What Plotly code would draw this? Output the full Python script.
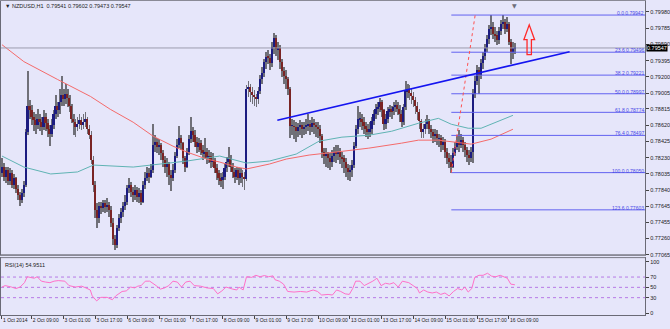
import plotly.graph_objects as go

# ---------------- data (prices in 1e-4 units) ----------------
FIRST_OPEN = 7805
CLOSE = [7812,7800,7808,7795,7805,7790,7798,7785,7778,7772,
         7780,7790,7854,7885,7880,7872,7868,7862,7870,7866,
         7860,7872,7865,7858,7852,7862,7876,7885,7880,7890,
         7898,7894,7900,7895,7885,7870,7866,7860,7864,7868,
         7862,7866,7870,7858,7850,7820,7790,7760,7750,7765,
         7762,7768,7764,7766,7760,7745,7725,7718,7738,7750,
         7758,7765,7770,7786,7790,7782,7778,7784,7776,7780,
         7770,7790,7798,7805,7800,7808,7838,7842,7836,7838,
         7828,7820,7812,7815,7802,7798,7808,7825,7838,7846,
         7840,7822,7812,7830,7845,7855,7850,7842,7836,7840,
         7832,7828,7830,7822,7825,7818,7820,7810,7804,7798,
         7796,7800,7810,7818,7822,7812,7806,7800,7808,7798,
         7805,7800,7797,7905,7908,7902,7898,7896,7893,7903,
         7917,7925,7938,7944,7943,7937,7956,7967,7953,7955,
         7938,7927,7921,7917,7905,7861,7861,7860,7855,7860,
         7862,7857,7860,7862,7864,7860,7865,7862,7860,7858,
         7849,7830,7825,7827,7822,7818,7825,7830,7828,7830,
         7824,7822,7818,7810,7806,7808,7814,7837,7858,7869,
         7870,7866,7861,7858,7854,7858,7867,7875,7881,7884,
         7890,7880,7864,7869,7879,7881,7879,7884,7886,7882,
         7875,7866,7884,7903,7905,7901,7897,7892,7885,7878,
         7867,7854,7858,7863,7867,7858,7854,7849,7851,7846,
         7846,7838,7842,7830,7822,7818,7812,7828,7836,7842,
         7838,7844,7838,7832,7826,7822,7830,7899,7915,7928,
         7922,7937,7945,7955,7965,7977,7980,7972,7970,7964,
         7975,7984,7986,7978,7984,7962,7950,7954.1,7954.7]
HIGH = [7822,7816,7812,7812,7810,7808,7803,7800,7790,7782,
        7785,7795,7858,7927,7892,7886,7878,7875,7882,7876,
        7872,7880,7877,7870,7862,7870,7880,7898,7890,7905,
        7921,7906,7912,7905,7898,7888,7875,7870,7872,7876,
        7872,7875,7878,7872,7862,7855,7825,7795,7768,7770,
        7770,7772,7772,7774,7770,7765,7750,7730,7742,7755,
        7762,7770,7778,7790,7798,7794,7788,7790,7788,7786,
        7784,7795,7806,7812,7810,7815,7864,7850,7846,7845,
        7840,7832,7825,7822,7818,7808,7815,7830,7845,7861,
        7850,7842,7825,7835,7850,7872,7860,7856,7848,7846,
        7844,7838,7846,7834,7832,7830,7828,7822,7815,7808,
        7804,7806,7815,7824,7836,7826,7816,7810,7812,7810,
        7810,7808,7806,7910,7915,7912,7908,7904,7900,7908,
        7922,7932,7942,7950,7952,7948,7962,7973,7970,7962,
        7958,7942,7932,7928,7920,7908,7870,7868,7866,7865,
        7868,7866,7866,7870,7875,7868,7872,7870,7866,7866,
        7862,7852,7835,7834,7830,7828,7832,7836,7838,7838,
        7834,7830,7826,7822,7815,7814,7820,7842,7862,7885,
        7878,7876,7872,7866,7864,7866,7872,7880,7888,7890,
        7895,7892,7882,7875,7884,7886,7885,7890,7892,7890,
        7886,7880,7888,7915,7912,7910,7905,7902,7896,7890,
        7882,7870,7864,7870,7874,7870,7862,7858,7858,7856,
        7852,7850,7848,7845,7834,7828,7826,7834,7842,7850,
        7856,7852,7848,7842,7836,7832,7836,7905,7921,7934,
        7932,7942,7950,7960,7970,7982,7994,7986,7980,7975,
        7980,7988,7994,7990,7992,7986,7966,7962,7960.2]
LOW = [7800,7795,7792,7790,7790,7786,7785,7780,7772,7765,
       7768,7776,7788,7850,7870,7862,7855,7852,7858,7855,
       7850,7856,7855,7848,7837,7848,7858,7870,7872,7876,
       7885,7885,7888,7884,7878,7865,7850,7848,7855,7858,
       7856,7858,7860,7852,7845,7815,7782,7750,7739,7745,
       7755,7758,7756,7758,7752,7740,7718,7712,7715,7735,
       7745,7752,7760,7766,7780,7776,7770,7772,7770,7768,
       7766,7768,7785,7795,7792,7798,7805,7830,7828,7826,
       7820,7812,7805,7800,7790,7783,7795,7805,7822,7835,
       7832,7815,7806,7810,7826,7840,7842,7836,7828,7830,
       7826,7820,7822,7815,7816,7810,7812,7804,7796,7790,
       7788,7785,7796,7806,7812,7806,7798,7792,7796,7790,
       7792,7788,7784,7795,7896,7890,7888,7885,7884,7888,
       7900,7912,7920,7930,7935,7928,7932,7948,7945,7940,
       7930,7920,7912,7905,7898,7846,7850,7845,7842,7848,
       7850,7846,7850,7852,7855,7850,7854,7852,7848,7846,
       7840,7822,7815,7812,7810,7808,7812,7818,7816,7820,
       7815,7810,7805,7800,7796,7795,7800,7810,7835,7852,
       7860,7856,7852,7848,7845,7848,7852,7862,7870,7874,
       7878,7872,7856,7858,7865,7872,7870,7874,7878,7874,
       7866,7860,7862,7880,7895,7892,7888,7884,7876,7868,
       7858,7846,7846,7852,7858,7852,7846,7840,7842,7838,
       7836,7830,7832,7822,7815,7810,7805,7810,7825,7832,
       7830,7834,7830,7824,7818,7814,7818,7816,7895,7910,
       7899,7918,7930,7940,7950,7960,7970,7965,7962,7958,
       7960,7970,7978,7972,7974,7958,7935,7942,7947.3]

# moving averages (bar index, price)
MA_RED_X = [0, 11, 28, 44.5, 54.5, 66, 76, 86, 93, 103, 109.5, 118, 123, 134.5,
            143, 154.5, 168, 184.5, 201, 209.5, 219.5, 228, 236, 246, 257]
MA_RED_Y = [0.79586, 0.79383, 0.79168, 0.78965, 0.78810, 0.78655, 0.78488, 0.78368,
            0.78297, 0.78213, 0.78177, 0.78117, 0.78094, 0.78153, 0.78213, 0.78261,
            0.78297, 0.78344, 0.78404, 0.78440, 0.78440, 0.78416, 0.78392, 0.78452, 0.78571]
MA_TEAL_X = [0, 11, 24.5, 38, 46, 66, 79.5, 93, 109.5, 123, 134.5, 148, 159.5, 171,
             184.5, 196, 209.5, 219.5, 226, 234.5, 241, 248, 257]
MA_TEAL_Y = [0.78249, 0.78117, 0.78034, 0.78058, 0.78141, 0.78117, 0.78153, 0.78189,
             0.78249, 0.78165, 0.78189, 0.78273, 0.78428, 0.78476, 0.78499, 0.78547,
             0.78643, 0.78702, 0.78631, 0.78583, 0.78583, 0.78655, 0.78738]

# RSI(14)
RSI_X = [0, 1.6, 4.8, 7.0, 9.1, 11.3, 12.7, 14.5, 16.2, 17.7, 19.8, 21.9, 24.1, 26.2, 28.3,
         31.6, 33.7, 36.9, 40.1, 42.2, 44.4, 45.4, 47.6, 49.7, 52.9, 55.5, 57.2, 60.4, 62.5,
         64.7, 66.8, 68.3, 70.0, 72.1, 74.3, 77.5, 79.6, 81.8, 83.9, 86.0, 88.2, 90.3, 92.4,
         94.6, 96.7, 99.9, 103.1, 106.3, 108.5, 110.6, 112.7, 116.0, 118.1, 119.2, 121.3,
         123.0, 125.6, 127.7, 129.8, 132.0, 134.1, 136.3, 137.3, 139.5, 141.6, 143.7, 146.9,
         150.1, 153.3, 156.5, 158.7, 160.8, 164.0, 166.2, 168.3, 170.4, 172.6, 174.7, 176.4,
         177.9, 180.1, 182.2, 183.7, 186.5, 188.6, 190.7, 192.9, 195.0, 197.1, 199.3, 201.4,
         204.6, 206.8, 208.9, 210.0, 212.1, 214.2, 216.4, 218.5, 220.7, 222.8, 224.9, 227.1,
         229.2, 231.3, 232.8, 234.5, 236.3, 237.8, 239.9, 242.0, 244.2, 246.3, 248.4, 250.6,
         252.7, 254.2, 255.9, 257.0, 258.0]
RSI_Y = [50.6, 53.4, 50.6, 47.7, 50.6, 59.1, 70.6, 69.4, 67.7, 70.6, 62.0, 60.3, 59.1, 62.0, 63.1,
         62.0, 53.4, 50.6, 52.3, 48.9, 44.9, 33.4, 23.7, 30.6, 30.6, 26.0, 33.4, 42.0, 43.1,
         50.6, 48.9, 52.3, 53.4, 62.0, 62.0, 53.4, 46.6, 48.9, 53.4, 62.0, 60.3, 50.6, 60.3,
         62.0, 53.4, 52.3, 48.9, 47.7, 37.4, 43.1, 50.6, 46.6, 44.9, 50.6, 44.9,
         70.6, 69.4, 73.4, 70.6, 72.9, 70.6, 72.3, 64.9, 62.0, 56.3, 42.0, 40.9,
         42.0, 40.9, 44.9, 42.0, 35.1, 36.3, 35.1, 44.9, 42.0, 37.4, 36.3, 47.7,
         62.0, 62.0, 53.4, 56.3, 62.0, 67.7, 53.4, 58.0, 56.3, 59.1, 50.6, 62.0,
         59.1, 53.4, 47.7, 39.1, 44.9, 40.9, 39.1, 40.9, 36.3, 39.1, 33.4, 42.0,
         47.7, 44.9, 50.6, 40.9, 47.7, 69.4, 73.4, 73.4, 77.4, 71.7, 70.6, 73.4,
         69.4, 67.7, 56.3, 55.1, 54.95]
RSI_LEVELS = [70, 50, 30]

# Fibonacci retracement
FIB_NAMES = ["0.0", "23.6", "38.2", "50.0", "61.8", "76.4", "100.0", "123.6"]
FIB_PRICES = [0.79942, 0.79496, 0.79221, 0.78997, 0.78774, 0.78497, 0.78050, 0.77603]
FIB_START_BAR = 226
FIB_ANCHOR = ([226, 238], [0.78050, 0.79942])

# trend line (bar index, price)
TREND_X = [138.5, 285.5]
TREND_Y = [0.78679, 0.79502]

LAST_PRICE = 0.79547
HEADER = "▼ NZDUSD,H1  0.79541 0.79602 0.79473 0.79547"
RSI_LABEL = "RSI(14) 54.9511"

PRICE_TICKS = [0.79980, 0.79785, 0.79590, 0.79395, 0.79200, 0.79005, 0.78815, 0.78620,
               0.78425, 0.78230, 0.78035, 0.77840, 0.77645, 0.77455, 0.77260, 0.77065]
TIME_TICK_BARS = [0, 15, 31, 47, 63, 79, 95, 111, 127, 143, 159, 175, 191, 207, 223, 239, 255]
TIME_TICK_TEXT = ["1 Oct 2014", "2 Oct 09:00", "3 Oct 01:00", "3 Oct 17:00", "6 Oct 09:00",
                  "7 Oct 01:00", "7 Oct 17:00", "8 Oct 09:00", "9 Oct 01:00", "9 Oct 17:00",
                  "10 Oct 09:00", "13 Oct 01:00", "13 Oct 17:00", "14 Oct 09:00",
                  "15 Oct 01:00", "15 Oct 17:00", "16 Oct 09:00"]

# ---------------- build ----------------
W, H = 670, 329
PLOT_R = 648
S = 1e-4
close = [c * S for c in CLOSE]
high = [h * S for h in HIGH]
low = [l * S for l in LOW]
opens = [FIRST_OPEN * S] + close[:-1]
idx = list(range(len(close)))

up = [c >= o for o, c in zip(opens, close)]
body_base = [min(o, c) for o, c in zip(opens, close)]
body_h = [max(abs(c - o), 0.00003) for o, c in zip(opens, close)]

BG = "#e6e6fa"
FONT = "Liberation Sans"
fig = go.Figure()

fig.add_trace(go.Bar(x=idx, y=[h - l for h, l in zip(high, low)], base=low, width=0.45,
                     marker=dict(color="#707078", line=dict(width=0)),
                     xaxis="x", yaxis="y", hoverinfo="skip"))
fig.add_trace(go.Bar(x=idx, y=body_h, base=body_base, width=0.85,
                     marker=dict(color=["#1c1c80" if u else "#7a2424" for u in up],
                                 line=dict(width=0)),
                     xaxis="x", yaxis="y", hoverinfo="skip"))

fig.add_trace(go.Scatter(x=MA_TEAL_X, y=MA_TEAL_Y, mode="lines",
                         line=dict(color="#5fb3b3", width=1), xaxis="x", yaxis="y"))
fig.add_trace(go.Scatter(x=MA_RED_X, y=MA_RED_Y, mode="lines",
                         line=dict(color="#f46a6a", width=1), xaxis="x", yaxis="y"))

# RSI
for lv in RSI_LEVELS:
    fig.add_trace(go.Scatter(x=[-0.5, 323.5], y=[lv, lv], mode="lines",
                             line=dict(color="#b77ae6", width=1, dash="dot"),
                             xaxis="x2", yaxis="y2"))
fig.add_trace(go.Scatter(x=RSI_X, y=RSI_Y, mode="lines",
                         line=dict(color="#ff70c8", width=1), xaxis="x2", yaxis="y2"))

shapes = []
shapes.append(dict(type="line", xref="x", yref="y", x0=-0.5, x1=323.5,
                   y0=LAST_PRICE, y1=LAST_PRICE, line=dict(color="#9c9cae", width=1)))
for p in FIB_PRICES:
    shapes.append(dict(type="line", xref="x", yref="y", x0=FIB_START_BAR, x1=323.5,
                       y0=p, y1=p, line=dict(color="#6262f0", width=1)))
shapes.append(dict(type="line", xref="x", yref="y", x0=FIB_ANCHOR[0][0], x1=FIB_ANCHOR[0][1],
                   y0=FIB_ANCHOR[1][0], y1=FIB_ANCHOR[1][1],
                   line=dict(color="#ff5050", width=1, dash="dot")))
shapes.append(dict(type="line", xref="x", yref="y", x0=TREND_X[0], x1=TREND_X[1],
                   y0=TREND_Y[0], y1=TREND_Y[1], line=dict(color="#1414f0", width=1.6)))
shapes.append(dict(type="path", xref="x", yref="y",
                   path="M 262.5,0.79646 L 265.2,0.79825 L 267.9,0.79646 L 266.3,0.79646 "
                        "L 266.3,0.79467 L 264.1,0.79467 L 264.1,0.79646 Z",
                   line=dict(color="#ff2a2a", width=1.3), fillcolor="rgba(0,0,0,0)"))
for yy in (257, 260):
    shapes.append(dict(type="line", xref="paper", yref="paper", x0=0, x1=PLOT_R / W,
                       y0=1 - yy / H, y1=1 - yy / H, line=dict(color="#8a8a96", width=1)))

annotations = []
annotations.append(dict(text=HEADER, xref="paper", yref="paper", x=2 / W, y=1 - 1 / H,
                        xanchor="left", yanchor="top", showarrow=False,
                        font=dict(family=FONT, size=5.5, color="#222")))
annotations.append(dict(text=RSI_LABEL, xref="paper", yref="paper", x=2 / W, y=1 - 262 / H,
                        xanchor="left", yanchor="top", showarrow=False,
                        font=dict(family=FONT, size=5.5, color="#222")))
for n, p in zip(FIB_NAMES, FIB_PRICES):
    annotations.append(dict(text=f"{n} {p:.5f}", xref="x", yref="y", x=323.3, y=p,
                            xanchor="right", yanchor="bottom", showarrow=False,
                            font=dict(family=FONT, size=5, color="#4a4ae6"),
                            borderpad=0, yshift=-2))
annotations.append(dict(text=f"{LAST_PRICE:.5f}", xref="paper", yref="y", x=PLOT_R / W + 0.001,
                        y=LAST_PRICE, xanchor="left", yanchor="middle", showarrow=False,
                        bgcolor="#000000", font=dict(family=FONT, size=5.5, color="#ffffff"),
                        borderpad=0))
annotations.append(dict(text="▼", xref="x", yref="paper", x=258, y=1.0,
                        xanchor="center", yanchor="top", showarrow=False,
                        font=dict(family="DejaVu Sans", size=6, color="#6e6e7a")))

axis_font = dict(family=FONT, size=5.5, color="#222")
xaxis_font = dict(family=FONT, size=5, color="#222")
fig.update_layout(
    width=W, height=H, margin=dict(l=0, r=0, t=0, b=0),
    paper_bgcolor=BG, plot_bgcolor=BG, showlegend=False, barmode="overlay",
    bargap=0, shapes=shapes, annotations=annotations,
    xaxis=dict(domain=[0, PLOT_R / W], range=[-0.5, 323.5], anchor="y",
               showticklabels=False, showgrid=False, zeroline=False,
               showline=True, mirror=True, linecolor="#8a8a96", linewidth=1, ticks=""),
    yaxis=dict(domain=[1 - 257 / H, 1 - 1 / H], range=[0.77065, 0.80111], anchor="x",
               side="right", tickvals=PRICE_TICKS, ticktext=[f"{t:.5f}" for t in PRICE_TICKS],
               ticks="outside", ticklen=3, tickcolor="#444", tickfont=axis_font,
               showgrid=False, zeroline=False, showline=True, mirror=True,
               linecolor="#6a6a76", linewidth=1),
    xaxis2=dict(domain=[0, PLOT_R / W], range=[-0.5, 323.5], anchor="y2",
                tickvals=TIME_TICK_BARS, ticktext=TIME_TICK_TEXT, ticks="outside", ticklen=3,
                tickcolor="#444", ticklabelposition="outside right", tickfont=xaxis_font,
                tickangle=0, showgrid=False, zeroline=False, showline=True, mirror=True,
                linecolor="#6a6a76", linewidth=1),
    yaxis2=dict(domain=[1 - 318 / H, 1 - 260 / H], range=[-3.85, 107.7], anchor="x2",
                side="right", tickvals=[0, 30, 50, 70, 100], ticks="outside", ticklen=3,
                tickcolor="#444", tickfont=axis_font, showgrid=False, zeroline=False,
                showline=True, mirror=True, linecolor="#6a6a76", linewidth=1),
)

fig.write_html("out.html")
